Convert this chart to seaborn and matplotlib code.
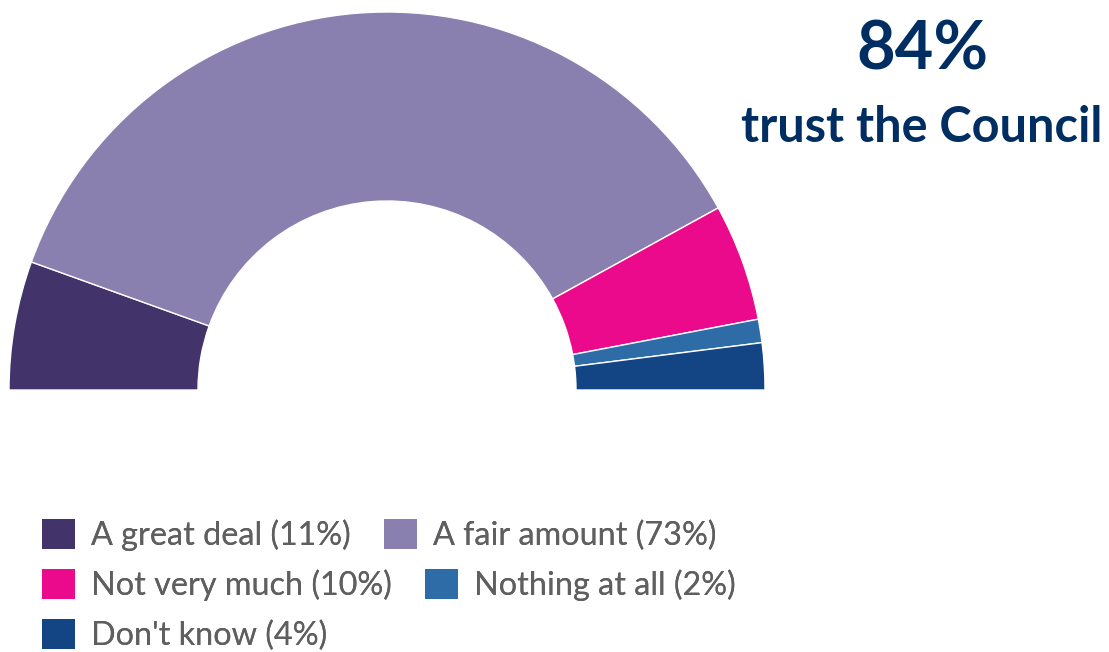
import matplotlib
matplotlib.use("Agg")
import matplotlib.pyplot as plt
import seaborn as sns

# Survey data
labels = ["A great deal", "A fair amount", "Not very much", "Nothing at all", "Don't know"]
values = [11, 73, 10, 2, 4]
colors = ["#42346b", "#8a80b0", "#ec0a8c", "#2e6ca8", "#134585"]
headline = "84%"
subhead = "trust the Council"

sns.set_theme(style="white")
plt.rcParams["font.family"] = ["Lato", "DejaVu Sans"]

W, H = 1109, 652
fig = plt.figure(figsize=(W / 100, H / 100), dpi=100)
fig.patch.set_facecolor("white")

# half donut: centre at (387, 390) px, outer radius 378 px
ax = fig.add_axes([9 / W, (H - 390) / H, 756 / W, 378 / H])
wedges, _ = ax.pie(values + [sum(values)], colors=colors + ["white"],
                   startangle=180, counterclock=False, radius=1,
                   wedgeprops=dict(width=0.5, edgecolor="white", linewidth=1))
wedges[-1].set_visible(False)
wedges = wedges[:-1]
ax.set_xlim(-1, 1)
ax.set_ylim(0, 1)
ax.set_aspect("auto")
ax.axis("off")

# legend, flowing rows
leg_labels = [f"{l} ({v}%)" for l, v in zip(labels, values)]
rows = [[0, 1], [2, 3], [4]]
row_y = [535, 585, 635]
for idx, y in zip(rows, row_y):
    lg = fig.legend([wedges[i] for i in idx], [leg_labels[i] for i in idx],
                    loc="center left", bbox_to_anchor=(42 / W, (H - y) / H),
                    ncol=len(idx), frameon=False,
                    prop=dict(family=["Lato", "DejaVu Sans"], size=23.3),
                    handlelength=1.02, handleheight=1.02, handletextpad=0.48,
                    columnspacing=1.05, borderaxespad=0, borderpad=0)
    for t in lg.get_texts():
        t.set_color("#5f5f5f")
    for hnd in lg.legend_handles:
        hnd.set_edgecolor("none")
    fig.add_artist(lg)

fig.text(922 / W, (H - 50) / H, headline, ha="center", va="center",
         fontsize=48, fontweight="bold", color="#002d62")
fig.text(922 / W, (H - 127) / H, subhead, ha="center", va="center",
         fontsize=35, fontweight="bold", color="#002d62")

fig.savefig("out.png", dpi=100, facecolor="white")
